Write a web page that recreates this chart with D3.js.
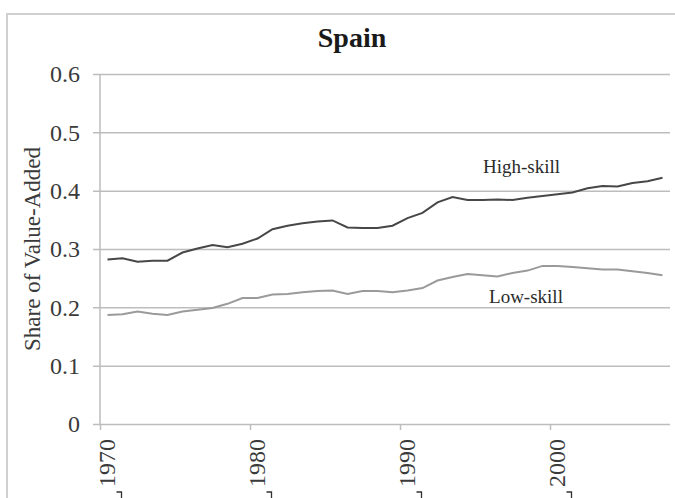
<!DOCTYPE html>
<html>
<head>
<meta charset="utf-8">
<script src="https://cdn.jsdelivr.net/npm/d3@7"></script>
<style>
  body { margin: 0; background: #fff; }
  text { font-family: "Liberation Serif", "DejaVu Serif", serif; }
</style>
</head>
<body>
<div class="chart-container"></div>
<script>
// Data
const years = d3.range(1970, 2008);
const highSkill = [
  0.282, 0.284, 0.278, 0.280, 0.280, 0.294, 0.301, 0.307, 0.303, 0.309,
  0.318, 0.334, 0.340, 0.344, 0.347, 0.349, 0.337, 0.336, 0.336, 0.340,
  0.353, 0.362, 0.380, 0.389, 0.384, 0.384, 0.385, 0.384, 0.388, 0.391,
  0.394, 0.397, 0.404, 0.408, 0.407, 0.413, 0.416, 0.422
];
const lowSkill = [
  0.187, 0.188, 0.193, 0.189, 0.187, 0.193, 0.196, 0.199, 0.206, 0.216,
  0.216, 0.222, 0.223, 0.226, 0.228, 0.229, 0.223, 0.228, 0.228, 0.226,
  0.229, 0.233, 0.246, 0.252, 0.257, 0.255, 0.253, 0.259, 0.263, 0.271,
  0.271, 0.269, 0.267, 0.265, 0.265, 0.262, 0.259, 0.255
];
const yTicks = [0, 0.1, 0.2, 0.3, 0.4, 0.5, 0.6];
const xLabelYears = [1970, 1980, 1990, 2000];
const seriesNames = ['High-skill', 'Low-skill'];

// Dimensions
const W = 675, H = 498;
const margin = {top: 74, right: 5, bottom: 74, left: 100};
const width = W - margin.left - margin.right;   // 570
const height = H - margin.top - margin.bottom;  // 350

const svg = d3.select('.chart-container')
  .append('svg')
  .attr('width', W)
  .attr('height', H);

// outer frame
svg.append('rect')
  .attr('x', 7).attr('y', 14)
  .attr('width', W + 10).attr('height', H + 10)
  .attr('fill', 'none')
  .attr('stroke', '#d0d0d0')
  .attr('stroke-width', 2);

const g = svg.append('g')
  .attr('transform', `translate(${margin.left}, ${margin.top})`);

// Scales
const xScale = d3.scaleLinear()
  .domain([years[0] - 0.5, years[years.length - 1] + 0.5])
  .range([0, width]);

const yScale = d3.scaleLinear()
  .domain([0, 0.6])
  .range([height, 0]);

// Title
svg.append('text')
  .attr('x', 352)
  .attr('y', 47)
  .attr('text-anchor', 'middle')
  .style('font-size', '28px')
  .style('font-weight', 'bold')
  .style('fill', '#1a1a1a')
  .text('Spain');

// Y axis with gridlines
const yAxis = d3.axisLeft(yScale)
  .tickValues(yTicks)
  .tickFormat(d => d === 0 ? '0' : d3.format('.1f')(d))
  .tickSizeInner(-width)
  .tickSizeOuter(0)
  .tickPadding(20);

const yAxisDraw = g.append('g')
  .attr('class', 'y axis')
  .call(yAxis);

yAxisDraw.select('.domain').remove();
yAxisDraw.selectAll('.tick line')
  .attr('x1', -7)
  .attr('stroke', '#bdbdbd')
  .attr('stroke-width', 1.5);
yAxisDraw.selectAll('.tick text')
  .style('font-size', '24px')
  .style('fill', '#3a3a3a')
  .attr('dy', '0.32em');

// vertical axis line
g.append('line')
  .attr('x1', 0).attr('x2', 0)
  .attr('y1', 0).attr('y2', height)
  .attr('stroke', '#bdbdbd')
  .attr('stroke-width', 1.5);

// X axis: ticks between categories every 10 years
const xAxis = d3.axisBottom(xScale)
  .tickValues(xLabelYears.map(d => d - 0.5))
  .tickFormat('')
  .tickSizeInner(6)
  .tickSizeOuter(0);

const xAxisDraw = g.append('g')
  .attr('class', 'x axis')
  .attr('transform', `translate(0, ${height})`)
  .call(xAxis);
xAxisDraw.select('.domain').remove();
xAxisDraw.selectAll('.tick line')
  .attr('stroke', '#bdbdbd')
  .attr('stroke-width', 1.5);

// rotated year labels
g.append('g')
  .selectAll('text')
  .data(xLabelYears)
  .join('text')
  .attr('transform', d => `translate(${xScale(d) - 1}, ${height + 15}) rotate(-90)`)
  .attr('text-anchor', 'end')
  .attr('dy', '0.35em')
  .style('font-size', '24px')
  .style('fill', '#3a3a3a')
  .text(d => d);

// small marks under the labels
g.append('g')
  .selectAll('path')
  .data(xLabelYears)
  .join('path')
  .attr('d', d => {
    const x = xScale(d) + 14;
    return `M${x - 5},${height + 68} H${x} V${height + 76}`;
  })
  .attr('fill', 'none')
  .attr('stroke', '#333')
  .attr('stroke-width', 1.3);

// Y axis title
svg.append('text')
  .attr('transform', `translate(40, 249) rotate(-90)`)
  .attr('text-anchor', 'middle')
  .style('font-size', '23px')
  .style('fill', '#3a3a3a')
  .text('Share of Value-Added');

// Lines
const line = d3.line()
  .x((d, i) => xScale(years[i]))
  .y(d => yScale(d));

g.append('path')
  .datum(lowSkill)
  .attr('d', line)
  .attr('fill', 'none')
  .attr('stroke', '#9a9a9a')
  .attr('stroke-width', 2);

g.append('path')
  .datum(highSkill)
  .attr('d', line)
  .attr('fill', 'none')
  .attr('stroke', '#474747')
  .attr('stroke-width', 2);

// Series labels
const labelAnchors = [
  {name: seriesNames[0], year: 1997.6, value: 0.430},
  {name: seriesNames[1], year: 1997.9, value: 0.2074}
];
g.append('g')
  .selectAll('text')
  .data(labelAnchors)
  .join('text')
  .attr('x', d => xScale(d.year))
  .attr('y', d => yScale(d.value))
  .attr('text-anchor', 'middle')
  .style('font-size', '19px')
  .style('fill', '#2a2a2a')
  .text(d => d.name);
</script>
</body>
</html>
